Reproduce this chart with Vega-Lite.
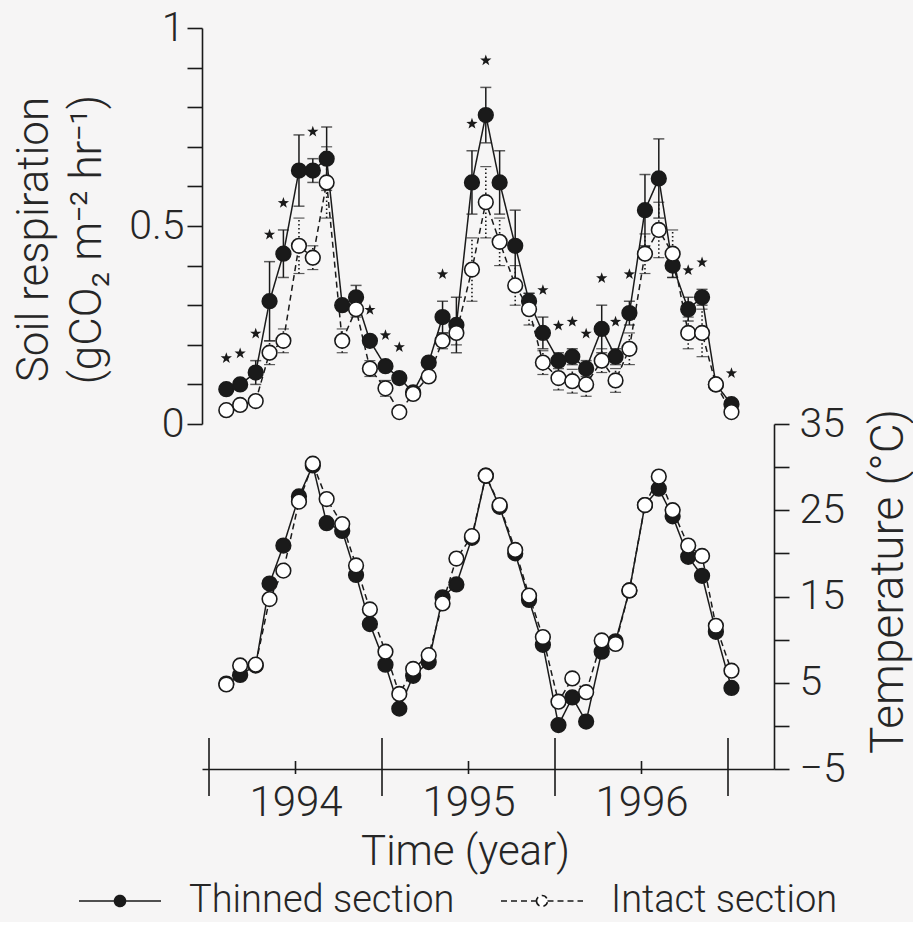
{
  "$schema": "https://vega.github.io/schema/vega-lite/v6.json",
  "autosize": {"type": "pad"},
  "padding": {"left": 11, "top": 7, "right": 2, "bottom": 2},
  "background": "#f6f5f5",
  "spacing": 0,
  "bounds": "flush",
  "datasets": {
    "months": [
      {"time": 1994.10, "section": "Thinned section", "resp": 0.088, "se": 0.01, "temp": 4.9, "sig": 1},
      {"time": 1994.18, "section": "Thinned section", "resp": 0.10, "se": 0.01, "temp": 5.9, "sig": 1},
      {"time": 1994.27, "section": "Thinned section", "resp": 0.13, "se": 0.03, "temp": 7.0, "sig": 1},
      {"time": 1994.35, "section": "Thinned section", "resp": 0.31, "se": 0.10, "temp": 16.5, "sig": 1},
      {"time": 1994.43, "section": "Thinned section", "resp": 0.43, "se": 0.06, "temp": 20.9, "sig": 1},
      {"time": 1994.52, "section": "Thinned section", "resp": 0.64, "se": 0.09, "temp": 26.6, "sig": 0},
      {"time": 1994.60, "section": "Thinned section", "resp": 0.64, "se": 0.03, "temp": 30.2, "sig": 1},
      {"time": 1994.68, "section": "Thinned section", "resp": 0.67, "se": 0.08, "temp": 23.5, "sig": 0},
      {"time": 1994.77, "section": "Thinned section", "resp": 0.30, "se": 0.01, "temp": 22.6, "sig": 0},
      {"time": 1994.85, "section": "Thinned section", "resp": 0.32, "se": 0.03, "temp": 17.5, "sig": 0},
      {"time": 1994.93, "section": "Thinned section", "resp": 0.21, "se": 0.01, "temp": 11.8, "sig": 1},
      {"time": 1995.02, "section": "Thinned section", "resp": 0.146, "se": 0.01, "temp": 7.1, "sig": 1},
      {"time": 1995.10, "section": "Thinned section", "resp": 0.116, "se": 0.01, "temp": 2.0, "sig": 1},
      {"time": 1995.18, "section": "Thinned section", "resp": 0.08, "se": 0.01, "temp": 5.8, "sig": 0},
      {"time": 1995.27, "section": "Thinned section", "resp": 0.155, "se": 0.01, "temp": 7.4, "sig": 0},
      {"time": 1995.35, "section": "Thinned section", "resp": 0.27, "se": 0.04, "temp": 14.9, "sig": 1},
      {"time": 1995.43, "section": "Thinned section", "resp": 0.25, "se": 0.07, "temp": 16.4, "sig": 0},
      {"time": 1995.52, "section": "Thinned section", "resp": 0.61, "se": 0.08, "temp": 21.8, "sig": 1},
      {"time": 1995.60, "section": "Thinned section", "resp": 0.78, "se": 0.07, "temp": 29.0, "sig": 1},
      {"time": 1995.68, "section": "Thinned section", "resp": 0.61, "se": 0.08, "temp": 25.4, "sig": 0},
      {"time": 1995.77, "section": "Thinned section", "resp": 0.45, "se": 0.09, "temp": 20.0, "sig": 0},
      {"time": 1995.85, "section": "Thinned section", "resp": 0.31, "se": 0.02, "temp": 14.6, "sig": 0},
      {"time": 1995.93, "section": "Thinned section", "resp": 0.23, "se": 0.04, "temp": 9.4, "sig": 1},
      {"time": 1996.02, "section": "Thinned section", "resp": 0.16, "se": 0.02, "temp": 0.1, "sig": 1},
      {"time": 1996.10, "section": "Thinned section", "resp": 0.17, "se": 0.02, "temp": 3.3, "sig": 1},
      {"time": 1996.18, "section": "Thinned section", "resp": 0.14, "se": 0.02, "temp": 0.5, "sig": 1},
      {"time": 1996.27, "section": "Thinned section", "resp": 0.24, "se": 0.06, "temp": 8.6, "sig": 1},
      {"time": 1996.35, "section": "Thinned section", "resp": 0.17, "se": 0.02, "temp": 9.8, "sig": 1},
      {"time": 1996.43, "section": "Thinned section", "resp": 0.28, "se": 0.03, "temp": 15.7, "sig": 1},
      {"time": 1996.52, "section": "Thinned section", "resp": 0.54, "se": 0.09, "temp": 25.6, "sig": 0},
      {"time": 1996.60, "section": "Thinned section", "resp": 0.62, "se": 0.10, "temp": 27.5, "sig": 0},
      {"time": 1996.68, "section": "Thinned section", "resp": 0.40, "se": 0.03, "temp": 24.3, "sig": 0},
      {"time": 1996.77, "section": "Thinned section", "resp": 0.29, "se": 0.03, "temp": 19.6, "sig": 1},
      {"time": 1996.85, "section": "Thinned section", "resp": 0.32, "se": 0.02, "temp": 17.4, "sig": 1},
      {"time": 1996.93, "section": "Thinned section", "resp": 0.10, "se": 0.01, "temp": 10.9, "sig": 0},
      {"time": 1997.02, "section": "Thinned section", "resp": 0.05, "se": 0.01, "temp": 4.4, "sig": 1},
      {"time": 1994.10, "section": "Intact section", "resp": 0.035, "se": 0.01, "temp": 4.8, "sig": 0},
      {"time": 1994.18, "section": "Intact section", "resp": 0.048, "se": 0.01, "temp": 7.0, "sig": 0},
      {"time": 1994.27, "section": "Intact section", "resp": 0.058, "se": 0.01, "temp": 7.1, "sig": 0},
      {"time": 1994.35, "section": "Intact section", "resp": 0.18, "se": 0.03, "temp": 14.7, "sig": 0},
      {"time": 1994.43, "section": "Intact section", "resp": 0.21, "se": 0.03, "temp": 18.0, "sig": 0},
      {"time": 1994.52, "section": "Intact section", "resp": 0.45, "se": 0.07, "temp": 26.0, "sig": 0},
      {"time": 1994.60, "section": "Intact section", "resp": 0.42, "se": 0.03, "temp": 30.4, "sig": 0},
      {"time": 1994.68, "section": "Intact section", "resp": 0.61, "se": 0.09, "temp": 26.3, "sig": 0},
      {"time": 1994.77, "section": "Intact section", "resp": 0.21, "se": 0.03, "temp": 23.4, "sig": 0},
      {"time": 1994.85, "section": "Intact section", "resp": 0.29, "se": 0.02, "temp": 18.6, "sig": 0},
      {"time": 1994.93, "section": "Intact section", "resp": 0.14, "se": 0.02, "temp": 13.5, "sig": 0},
      {"time": 1995.02, "section": "Intact section", "resp": 0.09, "se": 0.02, "temp": 8.6, "sig": 0},
      {"time": 1995.10, "section": "Intact section", "resp": 0.03, "se": 0.01, "temp": 3.7, "sig": 0},
      {"time": 1995.18, "section": "Intact section", "resp": 0.076, "se": 0.01, "temp": 6.6, "sig": 0},
      {"time": 1995.27, "section": "Intact section", "resp": 0.12, "se": 0.01, "temp": 8.2, "sig": 0},
      {"time": 1995.35, "section": "Intact section", "resp": 0.21, "se": 0.02, "temp": 14.2, "sig": 0},
      {"time": 1995.43, "section": "Intact section", "resp": 0.23, "se": 0.03, "temp": 19.4, "sig": 0},
      {"time": 1995.52, "section": "Intact section", "resp": 0.39, "se": 0.08, "temp": 22.0, "sig": 0},
      {"time": 1995.60, "section": "Intact section", "resp": 0.56, "se": 0.09, "temp": 29.0, "sig": 0},
      {"time": 1995.68, "section": "Intact section", "resp": 0.46, "se": 0.06, "temp": 25.6, "sig": 0},
      {"time": 1995.77, "section": "Intact section", "resp": 0.35, "se": 0.05, "temp": 20.4, "sig": 0},
      {"time": 1995.85, "section": "Intact section", "resp": 0.29, "se": 0.04, "temp": 15.1, "sig": 0},
      {"time": 1995.93, "section": "Intact section", "resp": 0.155, "se": 0.03, "temp": 10.3, "sig": 0},
      {"time": 1996.02, "section": "Intact section", "resp": 0.116, "se": 0.03, "temp": 2.8, "sig": 0},
      {"time": 1996.10, "section": "Intact section", "resp": 0.108, "se": 0.03, "temp": 5.5, "sig": 0},
      {"time": 1996.18, "section": "Intact section", "resp": 0.10, "se": 0.03, "temp": 3.9, "sig": 0},
      {"time": 1996.27, "section": "Intact section", "resp": 0.16, "se": 0.03, "temp": 9.9, "sig": 0},
      {"time": 1996.35, "section": "Intact section", "resp": 0.11, "se": 0.03, "temp": 9.5, "sig": 0},
      {"time": 1996.43, "section": "Intact section", "resp": 0.19, "se": 0.04, "temp": 15.7, "sig": 0},
      {"time": 1996.52, "section": "Intact section", "resp": 0.43, "se": 0.05, "temp": 25.6, "sig": 0},
      {"time": 1996.60, "section": "Intact section", "resp": 0.49, "se": 0.07, "temp": 28.9, "sig": 0},
      {"time": 1996.68, "section": "Intact section", "resp": 0.43, "se": 0.06, "temp": 25.0, "sig": 0},
      {"time": 1996.77, "section": "Intact section", "resp": 0.23, "se": 0.04, "temp": 20.9, "sig": 0},
      {"time": 1996.85, "section": "Intact section", "resp": 0.23, "se": 0.06, "temp": 19.7, "sig": 0},
      {"time": 1996.93, "section": "Intact section", "resp": 0.10, "se": 0.01, "temp": 11.6, "sig": 0},
      {"time": 1997.02, "section": "Intact section", "resp": 0.03, "se": 0.01, "temp": 6.4, "sig": 0}
    ],
    "yearTicks": [{"time": 1994}, {"time": 1995}, {"time": 1996}, {"time": 1997}],
    "midTicks": [{"time": 1994.5}, {"time": 1995.5}, {"time": 1996.5}]
  },
  "vconcat": [
    {
      "width": 572,
      "height": 396,
      "data": {"name": "months"},
      "encoding": {
        "x": {"field": "time", "type": "quantitative", "scale": {"domain": [1993.9595, 1997.2659], "nice": false, "zero": false}, "axis": null},
        "y": {
          "field": "resp",
          "type": "quantitative",
          "scale": {"domain": [0, 1], "nice": false, "zero": false},
          "axis": {
            "orient": "left",
            "values": [0, 0.1, 0.2, 0.3, 0.4, 0.5, 0.6, 0.7, 0.8, 0.9, 1],
            "format": "~g",
            "labelExpr": "datum.value == 0 || datum.value == 0.5 || datum.value == 1 ? datum.label : ''",
            "tickSize": 15,
            "labelPadding": 3,
            "labelFontSize": 41,
            "title": ["Soil respiration", "(gCO₂ m⁻² hr⁻¹)"],
            "titleFontSize": 44,
            "titleAngle": -90,
            "titleAlign": "center",
            "titleBaseline": "top",
            "titleLineHeight": 53,
            "titleX": -190,
            "titleY": 211
          }
        }
      },
      "layer": [
        {
          "transform": [{"filter": "datum.section == 'Thinned section'"}],
          "mark": {"type": "errorbar", "color": "#1a1a1a", "ticks": {"size": 11, "thickness": 1.5}, "rule": {"strokeWidth": 1.5}},
          "encoding": {"yError": {"field": "se"}}
        },
        {
          "transform": [{"filter": "datum.section == 'Intact section'"}],
          "mark": {"type": "errorbar", "color": "#1a1a1a", "ticks": {"size": 11, "thickness": 1.2}, "rule": {"strokeWidth": 1.6, "strokeDash": [1.5, 2.5]}},
          "encoding": {"yError": {"field": "se"}}
        },
        {
          "mark": {"type": "line", "stroke": "#1a1a1a", "strokeWidth": 1.5},
          "encoding": {
            "strokeDash": {
              "field": "section",
              "type": "nominal",
              "scale": {"domain": ["Thinned section", "Intact section"], "range": [[1, 0], [6, 4]]},
              "legend": {"title": null, "orient": "none", "legendX": -101, "legendY": 854, "direction": "horizontal", "symbolType": "M-4.1,0H-0.55M0.55,0H4.1M-0.55,0A0.55,0.55 0 1,0 0.55,0A0.55,0.55 0 1,0 -0.55,0Z", "symbolSize": 400}
            }
          }
        },
        {
          "mark": {"type": "point", "shape": "circle", "filled": true, "stroke": "#1a1a1a", "strokeWidth": 1.6, "opacity": 1, "size": 215},
          "encoding": {
            "fill": {
              "field": "section",
              "type": "nominal",
              "scale": {"domain": ["Thinned section", "Intact section"], "range": ["#1a1a1a", "#ffffff"]},
              "legend": {"title": null, "orient": "none", "legendX": -101, "legendY": 854, "direction": "horizontal", "symbolType": "M-4.1,0H-0.55M0.55,0H4.1M-0.55,0A0.55,0.55 0 1,0 0.55,0A0.55,0.55 0 1,0 -0.55,0Z", "symbolSize": 400}
            }
          }
        },
        {
          "transform": [{"filter": "datum.sig == 1"}, {"calculate": "datum.resp + datum.se", "as": "upper"}],
          "mark": {"type": "point", "shape": "M0,-1L0.235,-0.324L0.951,-0.309L0.38,0.124L0.588,0.809L0,0.4L-0.588,0.809L-0.38,0.124L-0.951,-0.309L-0.235,-0.324Z", "filled": true, "color": "#1a1a1a", "opacity": 1, "size": 140, "yOffset": -27},
          "encoding": {"y": {"field": "upper", "type": "quantitative"}}
        }
      ]
    },
    {
      "width": 572,
      "height": 345,
      "data": {"name": "months"},
      "encoding": {
        "x": {
          "field": "time",
          "type": "quantitative",
          "scale": {"domain": [1993.9595, 1997.2659], "nice": false, "zero": false},
          "axis": {
            "orient": "bottom",
            "values": [1994.5, 1995.5, 1996.5],
            "labelExpr": "'' + floor(datum.value)",
            "ticks": false,
            "tickSize": 0,
            "labelFontSize": 42,
            "labelBaseline": "alphabetic",
            "labelPadding": 46,
            "title": "Time (year)",
            "titleFontSize": 42,
            "titleBaseline": "alphabetic",
            "titleAlign": "center",
            "titleX": 263,
            "titleY": 95
          }
        },
        "y": {
          "field": "temp",
          "type": "quantitative",
          "scale": {"domain": [-5, 35], "nice": false, "zero": false},
          "axis": {
            "orient": "right",
            "values": [-5, 0, 5, 10, 15, 20, 25, 30, 35],
            "labelExpr": "(datum.value + 5) % 10 == 0 ? datum.label : ''",
            "tickSize": 15,
            "labelPadding": 10,
            "labelFontSize": 41,
            "title": "Temperature (°C)",
            "titleFontSize": 46,
            "titleAngle": -90,
            "titleAlign": "center",
            "titleBaseline": "middle",
            "titleX": 114,
            "titleY": 157
          }
        }
      },
      "layer": [
        {
          "mark": {"type": "line", "stroke": "#1a1a1a", "strokeWidth": 1.5},
          "encoding": {
            "strokeDash": {
              "field": "section",
              "type": "nominal",
              "scale": {"domain": ["Thinned section", "Intact section"], "range": [[1, 0], [6, 4]]},
              "legend": {"title": null, "orient": "none", "legendX": -101, "legendY": 854, "direction": "horizontal", "symbolType": "M-4.1,0H-0.55M0.55,0H4.1M-0.55,0A0.55,0.55 0 1,0 0.55,0A0.55,0.55 0 1,0 -0.55,0Z", "symbolSize": 400}
            }
          }
        },
        {
          "mark": {"type": "point", "shape": "circle", "filled": true, "stroke": "#1a1a1a", "strokeWidth": 1.6, "opacity": 1, "size": 215},
          "encoding": {
            "fill": {
              "field": "section",
              "type": "nominal",
              "scale": {"domain": ["Thinned section", "Intact section"], "range": ["#1a1a1a", "#ffffff"]},
              "legend": {"title": null, "orient": "none", "legendX": -101, "legendY": 854, "direction": "horizontal", "symbolType": "M-4.1,0H-0.55M0.55,0H4.1M-0.55,0A0.55,0.55 0 1,0 0.55,0A0.55,0.55 0 1,0 -0.55,0Z", "symbolSize": 400}
            }
          }
        },
        {
          "data": {"name": "yearTicks"},
          "transform": [{"calculate": "-1.4", "as": "tickTop"}, {"calculate": "-8.13", "as": "tickBottom"}],
          "mark": {"type": "rule", "color": "#1a1a1a", "strokeWidth": 1.6},
          "encoding": {"y": {"field": "tickTop", "type": "quantitative"}, "y2": {"field": "tickBottom"}}
        },
        {
          "data": {"name": "midTicks"},
          "transform": [{"calculate": "-4.07", "as": "tickTop"}, {"calculate": "-5.58", "as": "tickBottom"}],
          "mark": {"type": "rule", "color": "#1a1a1a", "strokeWidth": 1.6},
          "encoding": {"y": {"field": "tickTop", "type": "quantitative"}, "y2": {"field": "tickBottom"}}
        }
      ]
    }
  ],
  "config": {
    "view": {"stroke": null},
    "font": "Roboto",
    "axis": {
      "grid": false,
      "labelFont": "Roboto",
      "titleFont": "Roboto",
      "labelFontWeight": 300,
      "titleFontWeight": 300,
      "labelColor": "#262626",
      "titleColor": "#262626",
      "tickColor": "#1a1a1a",
      "domainColor": "#1a1a1a",
      "tickWidth": 1.6,
      "domainWidth": 1.6
    },
    "legend": {
      "labelFont": "Roboto",
      "labelFontSize": 38,
      "labelFontWeight": 300,
      "labelColor": "#262626",
      "labelOffset": 50,
      "labelLimit": 0,
      "columnPadding": 42,
      "padding": 0,
      "symbolStrokeColor": "#1a1a1a",
      "symbolStrokeWidth": 1.6
    }
  }
}
